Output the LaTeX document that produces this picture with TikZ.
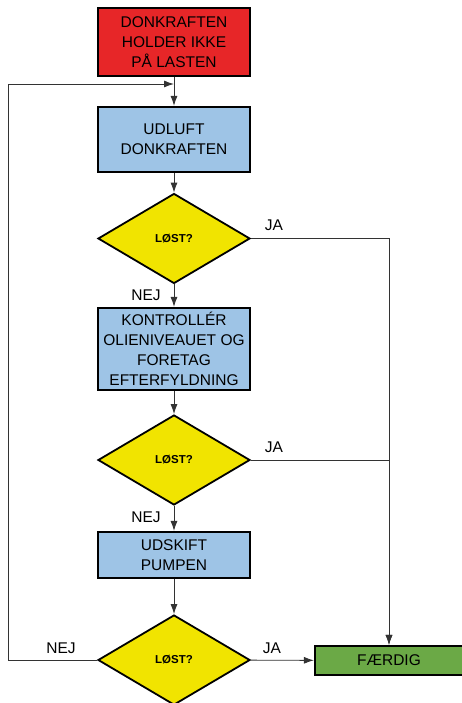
\documentclass[tikz,border=0pt]{standalone}
\usepackage{fontspec}
\setmainfont{Liberation Sans}
\usetikzlibrary{shapes.geometric,arrows.meta}
\definecolor{stopred}{RGB}{231,38,40}
\definecolor{stepblue}{RGB}{158,196,230}
\definecolor{askyellow}{RGB}{241,228,0}
\definecolor{donegreen}{RGB}{107,169,70}

\begin{document}
\begin{tikzpicture}[x=1pt,y=-1pt]
\tikzstyle{every node}=[inner sep=0pt,font=\fontsize{15.5}{20}\selectfont]
\tikzstyle{box}=[draw=black,line width=2.2pt,minimum width=152pt,align=center]
\tikzstyle{ask}=[diamond,draw=black,line width=1.8pt,fill=askyellow,minimum width=152pt,minimum height=90pt,font=\fontsize{11.5}{13}\selectfont\bfseries]
\tikzstyle{link}=[draw=black!80,line width=0.9pt,-{Latex[length=10pt,width=7pt]}]
%\tikzstyle{lab}=[font=\small]
\useasboundingbox (0,0) rectangle (461,703);

\node[box,fill=stopred,minimum height=68pt] (start) at (174,42) {DONKRAFTEN\\HOLDER IKKE\\PÅ LASTEN};
\node[box,fill=stepblue,minimum height=65pt] (udluft) at (174,139.5) {UDLUFT\\DONKRAFTEN};
\node[ask] (q1) at (174,238.5) {LØST?};
\node[box,fill=stepblue,minimum height=82pt] (kontrol) at (174,349) {KONTROLLÉR\\OLIENIVEAUET OG\\FORETAG\\EFTERFYLDNING};
\node[ask] (q2) at (174,460) {LØST?};
\node[box,fill=stepblue,minimum height=46pt] (udskift) at (174,555) {UDSKIFT\\PUMPEN};
\node[ask] (q3) at (174,660) {LØST?};
\node[box,fill=donegreen,minimum width=148pt,minimum height=29pt] (done) at (389,660.5) {FÆRDIG};

\coordinate (join) at (174,84);
\coordinate (back) at (8,660);

\draw[link] (start) -- (udluft);
\draw[link] (udluft) -- (q1);
\draw[link] (q1) -- (kontrol);
\draw[link] (kontrol) -- (q2);
\draw[link] (q2) -- (udskift);
\draw[link] (udskift) -- (q3);
\draw[link] (q3) -- (done);
\draw[link] (q1.east) -| (done.north);
\draw[link] (q2.east) -| (done.north);
\draw[link] (q3.west) -- (back) |- (join);

\node (ja1) at (274,225) {JA};
\node (nej1) at (146,295) {NEJ};
\node (ja2) at (274,447) {JA};
\node (nej2) at (146,517) {NEJ};
\node (nej3) at (61,648) {NEJ};
\node (ja3) at (272,648) {JA};
\end{tikzpicture}
\end{document}
